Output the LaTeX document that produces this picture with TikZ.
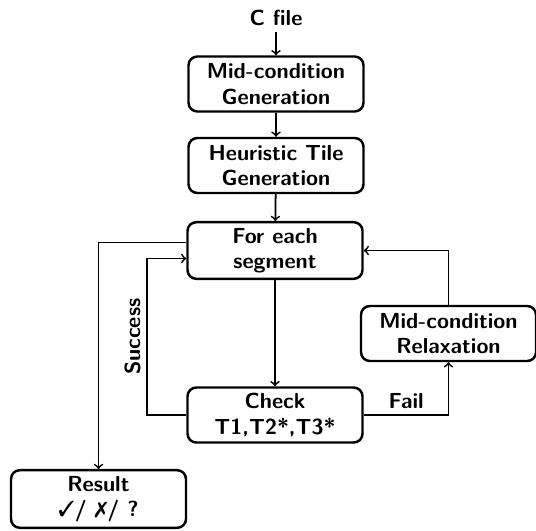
\documentclass[tikz,border=0pt]{standalone}
\usepackage{pifont}
\begin{document}
\begin{tikzpicture}[
    stage/.style={draw, line width=1.4pt, rounded corners=5pt, align=center,
        minimum width=3.5cm, minimum height=1.1cm},
    flow/.style={->, line width=1pt},
    every node/.style={font=\fontsize{12.4}{14.4}\selectfont\sffamily\bfseries}]
    \useasboundingbox (0,0) rectangle (10.72,-10.6);
            \node (cfile) at (5.52,-0.36) {C file};
            \node[stage] (gen) at (5.52,-1.68) {Mid-condition\\Generation};
            \node[stage] (tile) at (5.52,-3.31) {Heuristic Tile\\Generation};
            \node[stage] (seg) at (5.5,-5.01) {For each\\segment};
            \node[stage] (check) at (5.5,-8.3) {Check\\T1,T2*,T3*};
            \node[stage] (relax) at (8.97,-6.67) {Mid-condition\\Relaxation};
            \node[stage] (result) at (1.97,-9.98) {Result\\\ding{51}/ \ding{55}/ ?};

            \draw[flow] (cfile) -- (gen);
            \draw[flow] (gen) -- (tile);
            \draw[flow] (tile) -- (seg);
            \draw[flow] (seg) -- (check);
            \draw[flow] ([yshift=0.16cm]seg.west) -| (result.north);
            \draw[flow] (check.west) -- ++(-0.78,0) |- node[pos=0.25, rotate=90, above]{Success} ([yshift=-0.16cm]seg.west);
            \draw[flow] (check.east) -| node[pos=0.25, above]{Fail} (relax.south);
            \draw[flow] (relax.north) |- (seg.east);
\end{tikzpicture}
\end{document}
